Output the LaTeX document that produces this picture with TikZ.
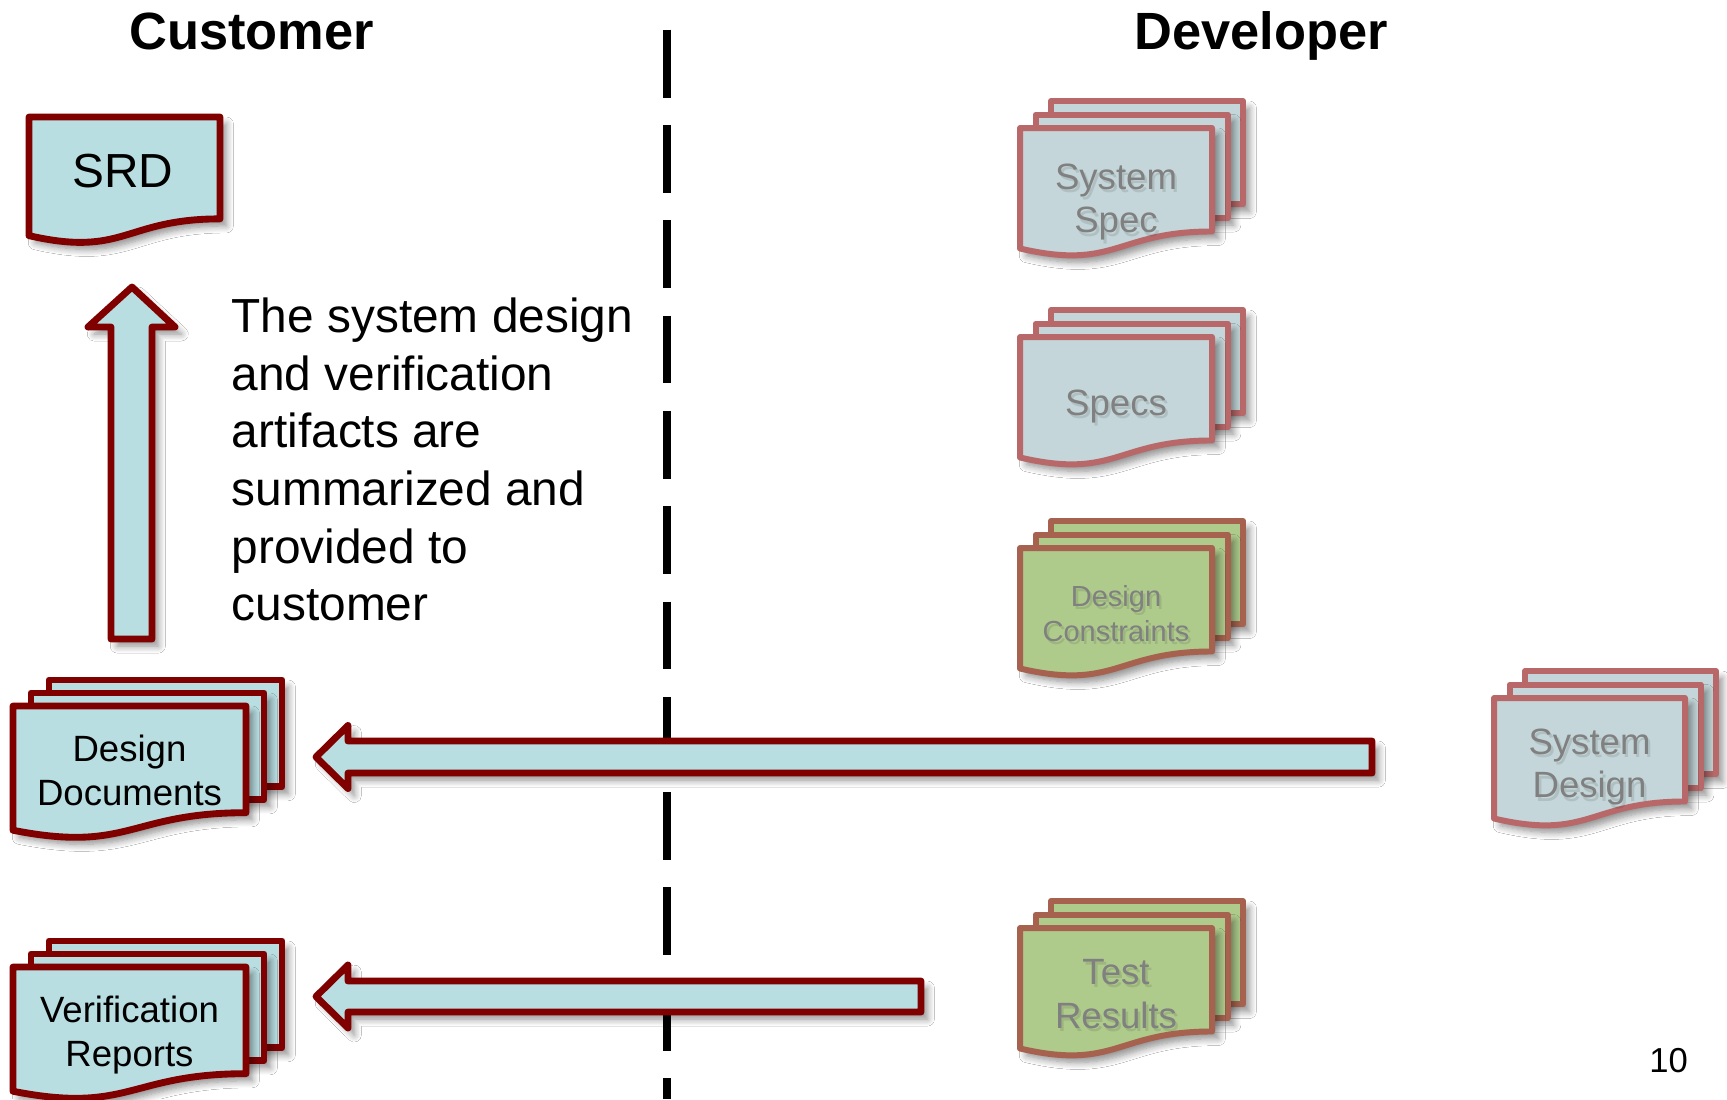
\documentclass[tikz,border=0pt]{standalone}
\usepackage{fontspec}
\setmainfont{Liberation Sans}
\usetikzlibrary{shadows.blur}

\definecolor{docfill}{RGB}{185,222,226}
\definecolor{docline}{RGB}{128,0,0}
\definecolor{palefill}{RGB}{196,214,217}
\definecolor{paleline}{RGB}{184,104,104}
\definecolor{greenfill}{RGB}{174,203,140}
\definecolor{greenline}{RGB}{166,98,78}
\definecolor{paletext}{RGB}{128,128,128}

\tikzset{
  softshadow/.style={blur shadow={shadow xshift=1.8pt,shadow yshift=-2pt,
      shadow blur radius=2pt,shadow blur steps=8,shadow opacity=45}},
  sheet/.style={fill=docfill,draw=docline,line width=1.95pt,line join=round,softshadow},
  palesheet/.style={fill=palefill,draw=paleline,line width=1.7pt,line join=round,softshadow},
  greensheet/.style={fill=greenfill,draw=greenline,line width=1.7pt,line join=round,softshadow},
  blockarrow/.style={fill=docfill,draw=docline,line width=1.95pt,line join=round,softshadow},
  divider/.style={line width=2.1pt,dash pattern=on 19.3pt off 7.8pt},
  title/.style={font=\fontsize{14.9}{17}\selectfont\bfseries,inner sep=0pt,anchor=base},
  bigtext/.style={font=\fontsize{13.6}{16.4}\selectfont,inner sep=0pt},
  doctext/.style={font=\fontsize{10.4}{12.5}\selectfont,align=center,inner sep=0pt},
  paletxt/.style={doctext,text=paletext},
  smalltxt/.style={font=\fontsize{8.25}{9.96}\selectfont,align=center,inner sep=0pt,text=paletext},
  textshade/.style={text=black,opacity=0.1,xshift=0.7pt,yshift=-0.9pt},
}

% one document sheet with a wavy lower edge: style, x, y, width, height
\newcommand\docsheet[5]{%
  \pgfmathsetmacro\dsR{#2+#4}%
  \pgfmathsetmacro\dsB{#3+0.802*#5}%
  \pgfmathsetmacro\dsM{#2+0.5*#4}%
  \pgfmathsetmacro\dsC{#3+1.107*#5}%
  \pgfmathsetmacro\dsL{#3+0.934*#5}%
  \path[#1] (#2,#3) -- (\dsR,#3) -- (\dsR,\dsB)
     .. controls (\dsM,\dsB) and (\dsM,\dsC) .. (#2,\dsL) -- cycle;}

% a stack of three sheets: style, x, y, width, height, xstep, ystep
\newcommand\docstack[7]{%
  \pgfmathsetmacro\dsH{0.802*#5}%
  \pgfmathsetmacro\dsBx{#2+2*#6}\pgfmathsetmacro\dsBy{#3-2*#7}%
  \path[#1] (\dsBx,\dsBy) rectangle ++(#4,\dsH);
  \pgfmathsetmacro\dsMx{#2+#6}\pgfmathsetmacro\dsMy{#3-#7}%
  \path[#1] (\dsMx,\dsMy) rectangle ++(#4,\dsH);
  \docsheet{#1}{#2}{#3}{#4}{#5}}

% grey label with a faint drop shadow: name, style, position, text
\newcommand\shadedlabel[4]{%
  \node[#2,textshade] (#1-shade) at (#3) {#4};
  \node[#2] (#1) at (#3) {#4};}

\begin{document}
\begin{tikzpicture}[x=0.01cm,y=-0.01cm]
\fill[white] (0,0) rectangle (1727,1099);
\useasboundingbox (0,0) rectangle (1727,1099);

% column titles and divider
\node[title] (customer) at (251.5,49.6) {Customer};
\node[title] (developer) at (1261,49.6) {Developer};
\coordinate (divtop) at (667,29.7);
\coordinate (divbot) at (667,1099);
\draw[divider] (divtop) -- (divbot);

% customer side
\docsheet{sheet}{29}{117}{191}{127}
\node[bigtext] (srd) at (123,171) {SRD};

\path[blockarrow] (111,639) -- (111,327) -- (88,327) -- (132,287) -- (175,327)
   -- (152,327) -- (152,639) -- cycle;

\node[bigtext,align=left,anchor=north west] (summary) at (231,297)
  {The system design\\and verification\\artifacts are\\summarized and\\provided to\\customer};

\docstack{sheet}{13}{706}{233}{133}{18}{13}
\node[doctext] (designdocs) at (129.5,770.5) {Design\\Documents};

\docstack{sheet}{13}{967}{233}{133}{18}{13}
\node[doctext] (verifreports) at (129.5,1035) {Verification\\Reports};

% developer side
\docstack{palesheet}{1020}{128}{192}{129}{15.5}{13.5}
\shadedlabel{sysspec}{paletxt}{1116,202}{System\\Spec}

\docstack{palesheet}{1020}{337}{192}{129}{15.5}{13.5}
\shadedlabel{specs}{paletxt}{1116,406.5}{Specs}

\docstack{greensheet}{1020}{548}{192}{129}{15.5}{13.5}
\shadedlabel{constraints}{smalltxt}{1116,613.5}{Design\\Constraints}

\docstack{greensheet}{1020}{928}{192}{129}{15.5}{13.5}
\shadedlabel{testresults}{paletxt}{1116,994}{Test\\Results}

\docstack{palesheet}{1494}{698}{191}{129}{15.5}{13.5}
\shadedlabel{sysdesign}{paletxt}{1589.5,767}{System\\Design}

% hand-over arrows
\path[blockarrow] (1372,741) -- (348,741) -- (348,725.5) -- (316,757) -- (348,788.5)
   -- (348,773) -- (1372,773) -- cycle;
\path[blockarrow] (921,981) -- (348,981) -- (348,965) -- (316,996.5) -- (348,1028)
   -- (348,1012) -- (921,1012) -- cycle;

% page number
\node[font=\fontsize{9.85}{12}\selectfont,inner sep=0pt] (pagenum) at (1668.6,1060.6) {10};
\end{tikzpicture}
\end{document}
